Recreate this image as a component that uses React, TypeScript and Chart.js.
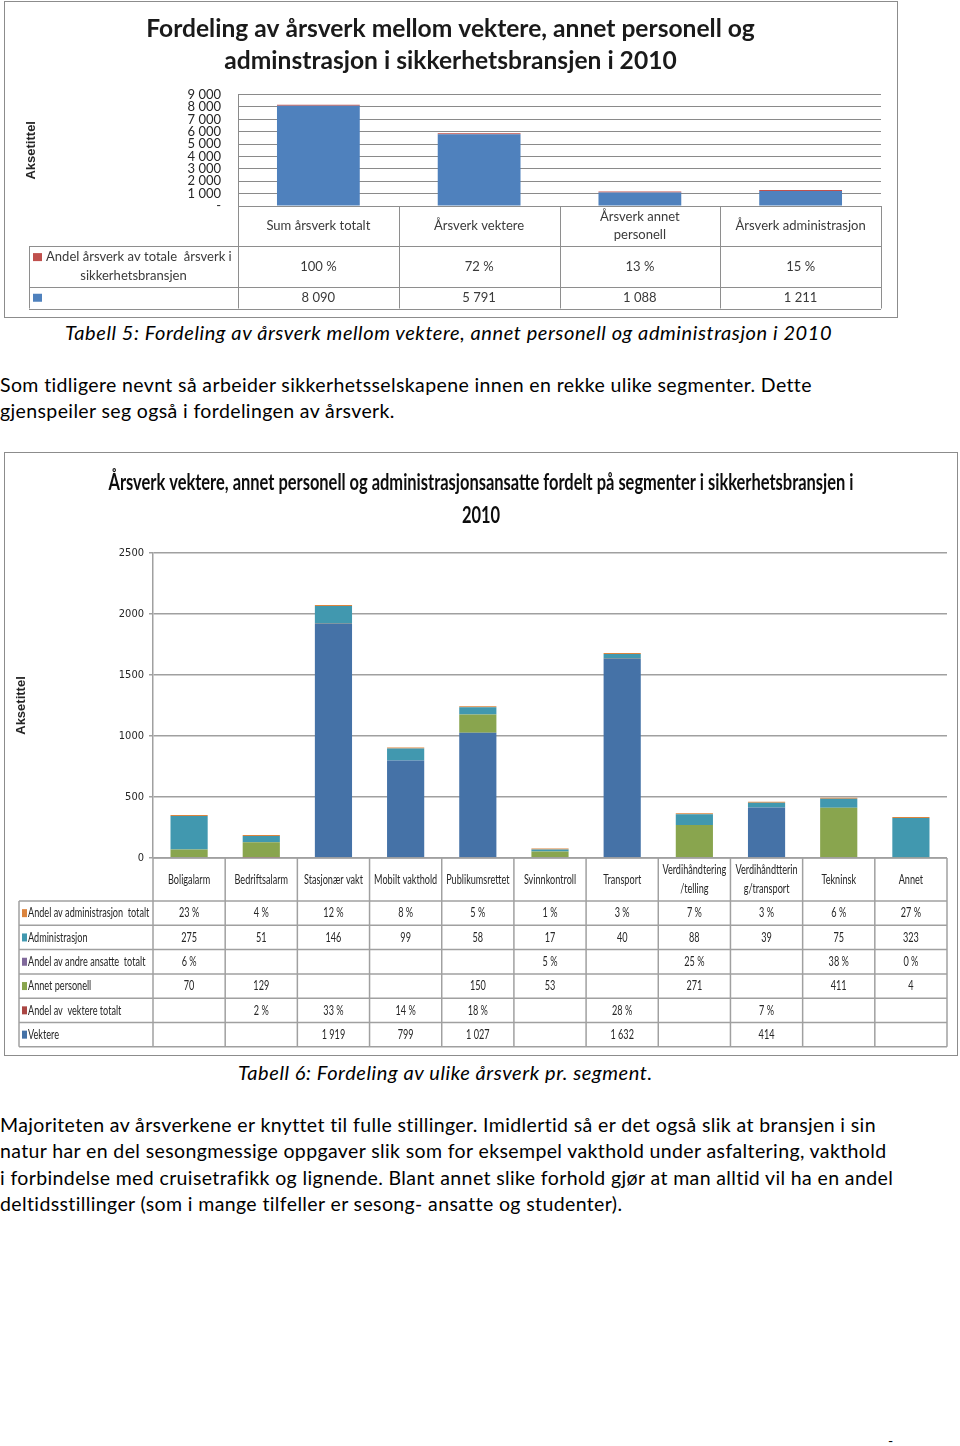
import React, { useEffect, useRef } from 'react';
import { Chart, registerables } from 'chart.js';

Chart.register(...registerables);

if (typeof document !== 'undefined') {
  document.body.style.margin = '0';
}

// ---------------- Chart 1 data ----------------
const C1_TITLE = ['Fordeling av årsverk mellom vektere, annet personell og', 'adminstrasjon i sikkerhetsbransjen i 2010'];
const C1_CATEGORIES = [['Sum årsverk totalt'], ['Årsverk vektere'], ['Årsverk annet', 'personell'], ['Årsverk administrasjon']];
const C1_ARSVERK = [8090, 5791, 1088, 1211];
const C1_ANDEL = [100, 72, 13, 15];
const C1_ANDEL_LABEL = ['Andel årsverk av totale  årsverk i', 'sikkerhetsbransjen'];
const C1_ARSVERK_LABEL: string[] = [];
const C1_Y_MAX = 9000;
const C1_Y_STEP = 1000;

// ---------------- Chart 2 data ----------------
const C2_TITLE = ['Årsverk vektere, annet personell og administrasjonsansatte fordelt på segmenter i sikkerhetsbransjen i', '2010'];
const SEGMENTS = [
  ['Boligalarm'], ['Bedriftsalarm'], ['Stasjonær vakt'], ['Mobilt vakthold'], ['Publikumsrettet'],
  ['Svinnkontroll'], ['Transport'], ['Verdihåndtering', '/telling'], ['Verdihåndtterin', 'g/transport'], ['Tekninsk'], ['Annet'],
];
const VEKTERE = [null, null, 1919, 799, 1027, null, 1632, null, 414, null, null];
const ANDEL_VEKTERE = [null, 2, 33, 14, 18, null, 28, null, 7, null, null];
const ANNET_PERSONELL = [70, 129, null, null, 150, 53, null, 271, null, 411, 4];
const ANDEL_ANDRE = [6, null, null, null, null, 5, null, 25, null, 38, 0];
const ADMINISTRASJON = [275, 51, 146, 99, 58, 17, 40, 88, 39, 75, 323];
const ANDEL_ADMIN = [23, 4, 12, 8, 5, 1, 3, 7, 3, 6, 27];
const C2_Y_MAX = 2500;
const C2_Y_STEP = 500;

// ---------------- page text ----------------
const CAPTION_1 = 'Tabell 5: Fordeling av årsverk mellom vektere, annet personell og administrasjon i 2010';
const PARA_1 = [
  'Som tidligere nevnt så arbeider sikkerhetsselskapene innen en rekke ulike segmenter. Dette',
  'gjenspeiler seg også i fordelingen av årsverk.',
];
const CAPTION_2 = 'Tabell 6: Fordeling av ulike årsverk pr. segment.';
const PARA_2 = [
  'Majoriteten av årsverkene er knyttet til fulle stillinger. Imidlertid så er det også slik at bransjen i sin',
  'natur har en del sesongmessige oppgaver slik som for eksempel vakthold under asfaltering, vakthold',
  'i forbindelse med cruisetrafikk og lignende. Blant annet slike forhold gjør at man alltid vil ha en andel',
  'deltidsstillinger (som i mange tilfeller er sesong- ansatte og studenter).',
];

// ---------------- styles ----------------
const C1_BLUE = '#4F81BD';
const C1_RED = '#C0504D';
const C2_BLUE = '#4572A7';
const C2_RED = '#AA4643';
const C2_GREEN = '#89A54E';
const C2_PURPLE = '#80699B';
const C2_TEAL = '#4198AF';
const C2_ORANGE = '#DB843D';
const SANS = "Lato, 'Noto Sans', sans-serif";
const NARROW = "'Liberation Sans Narrow', 'DejaVu Sans Condensed', 'Liberation Sans', sans-serif";

const fmtNum = (v: number) =>
  v >= 1000 ? `${Math.floor(v / 1000)} ${String(v % 1000).padStart(3, '0')}` : String(v);
const fmtPct = (v: number) => `${v} %`;

function drawText(
  ctx: CanvasRenderingContext2D, text: string, x: number, y: number,
  font: string, color: string, align: CanvasTextAlign, sx = 1,
) {
  ctx.save();
  ctx.font = font;
  ctx.fillStyle = color;
  ctx.textAlign = align;
  ctx.textBaseline = 'middle';
  ctx.translate(x, y);
  ctx.scale(sx, 1);
  ctx.fillText(text, 0, 0);
  ctx.restore();
}

function hline(ctx: CanvasRenderingContext2D, x1: number, x2: number, y: number) {
  ctx.beginPath();
  ctx.moveTo(x1, y);
  ctx.lineTo(x2, y);
  ctx.stroke();
}
function vline(ctx: CanvasRenderingContext2D, x: number, y1: number, y2: number) {
  ctx.beginPath();
  ctx.moveTo(x, y1);
  ctx.lineTo(x, y2);
  ctx.stroke();
}

// ================= Chart 1 =================
function Chart1() {
  const ref = useRef<HTMLCanvasElement>(null);
  useEffect(() => {
    const rows = [
      { label: C1_ANDEL_LABEL, color: C1_RED, values: C1_ANDEL, fmt: fmtPct },
      { label: C1_ARSVERK_LABEL, color: C1_BLUE, values: C1_ARSVERK, fmt: fmtNum },
    ];
    const tablePlugin = {
      id: 'table1',
      afterDraw(chart: any) {
        const { ctx, chartArea: ca } = chart;
        const xs = chart.scales.x;
        const n = C1_CATEGORIES.length;
        const cw = ca.width / n;
        const centers = C1_CATEGORIES.map((_, i) => xs.getPixelForValue(i));
        const edges = [...centers.map((c: number) => c - cw / 2), centers[n - 1] + cw / 2];
        const top = ca.bottom;
        const headerBottom = top + 40;
        const rowHs = [41, 21.5];
        const legendLeft = 24;
        const font = `13px ${SANS}`;
        ctx.save();
        ctx.font = font;
        const sx = 104 / ctx.measureText('Sum årsverk totalt').width;
        ctx.strokeStyle = '#8e8e8e';
        ctx.lineWidth = 1;
        hline(ctx, ca.left, ca.right, top + 0.5);
        let y = headerBottom;
        const rowTops: number[] = [];
        rows.forEach((_, i) => { rowTops.push(y); y += rowHs[i]; });
        const bottom = y;
        [...rowTops, bottom].forEach((yy) => hline(ctx, legendLeft, ca.right, Math.round(yy) + 0.5));
        edges.forEach((x: number) => vline(ctx, Math.round(x) + 0.5, top, bottom));
        vline(ctx, legendLeft + 0.5, headerBottom, bottom);
        ctx.restore();
        const hMid = (top + headerBottom) / 2;
        C1_CATEGORIES.forEach((lines, i) => {
          lines.forEach((t, j) => {
            const yy = hMid + (j - (lines.length - 1) / 2) * 18;
            drawText(ctx, t, centers[i], yy, font, '#3a3a3a', 'center', sx);
          });
        });
        rows.forEach((r, ri) => {
          const mid = rowTops[ri] + rowHs[ri] / 2;
          const sqY = r.label.length > 1 ? mid - 9.4 : mid;
          ctx.fillStyle = r.color;
          ctx.fillRect(legendLeft + 4, sqY - 4, 9, 8);
          r.label.forEach((t, j) => {
            const yy = mid + (j - (r.label.length - 1) / 2) * 18.7;
            if (j === 0) drawText(ctx, t, legendLeft + 17, yy, font, '#3a3a3a', 'left', sx);
            else drawText(ctx, t, (legendLeft + ca.left) / 2, yy, font, '#3a3a3a', 'center', sx);
          });
          r.values.forEach((v, i) => {
            if (v == null) return;
            drawText(ctx, r.fmt(v), centers[i], mid, font, '#3a3a3a', 'center', sx);
          });
        });
      },
    };
    const chart = new Chart(ref.current!, {
      type: 'bar',
      data: {
        labels: C1_CATEGORIES.map((c) => c.join(' ')),
        datasets: [
          { label: 'Årsverk', data: C1_ARSVERK, backgroundColor: C1_BLUE, barPercentage: 0.515, categoryPercentage: 1 },
          { label: 'Andel årsverk av totale årsverk i sikkerhetsbransjen', data: C1_ANDEL.map((v) => v / 100), backgroundColor: C1_RED, barPercentage: 0.515, categoryPercentage: 1, minBarLength: 1 },
        ],
      },
      options: {
        responsive: false,
        animation: false,
        devicePixelRatio: 1,
        layout: { padding: { left: 15, right: 16, top: 0, bottom: 111 } },
        plugins: {
          legend: { display: false },
          tooltip: { enabled: false },
          title: {
            display: true,
            text: C1_TITLE,
            color: '#1a1a1a',
            font: { family: SANS, size: 24.6, weight: 'bold', lineHeight: 1.3 },
            padding: { top: 11, bottom: 17.6 },
          },
        },
        scales: {
          x: { stacked: true, display: false },
          y: {
            stacked: true,
            min: 0,
            max: C1_Y_MAX,
            ticks: {
              stepSize: C1_Y_STEP,
              autoSkip: false,
              padding: 17,
              color: '#262626',
              font: { family: SANS, size: 13, lineHeight: 1 },
              callback: (v: any) => (Number(v) === 0 ? '-' : fmtNum(Number(v))),
            },
            grid: { color: '#8a8a8a', lineWidth: 1, drawTicks: false },
            border: { display: true, color: '#8a8a8a' },
            title: { display: true, text: 'Aksetittel', color: '#262626', font: { family: "'Liberation Sans', sans-serif", size: 13, weight: 'bold' } },
            afterFit: (s: any) => { s.width = 218; },
          },
        },
      } as any,
      plugins: [tablePlugin],
    });
    return () => chart.destroy();
  }, []);
  return <canvas ref={ref} width={892} height={315} style={{ display: 'block' }} />;
}

// ================= Chart 2 =================
function Chart2() {
  const ref = useRef<HTMLCanvasElement>(null);
  useEffect(() => {
    const series = [
      { label: 'Vektere', color: C2_BLUE, values: VEKTERE, pct: false },
      { label: 'Andel av  vektere totalt', color: C2_RED, values: ANDEL_VEKTERE, pct: true },
      { label: 'Annet personell', color: C2_GREEN, values: ANNET_PERSONELL, pct: false },
      { label: 'Andel av andre ansatte  totalt', color: C2_PURPLE, values: ANDEL_ANDRE, pct: true },
      { label: 'Administrasjon', color: C2_TEAL, values: ADMINISTRASJON, pct: false },
      { label: 'Andel av administrasjon  totalt', color: C2_ORANGE, values: ANDEL_ADMIN, pct: true },
    ];
    const titlePlugin = {
      id: 'title2',
      afterDraw(chart: any) {
        const { ctx, width } = chart;
        const font = `bold 23px ${SANS}`;
        ctx.save();
        ctx.font = font;
        const sx = 745 / ctx.measureText(C2_TITLE[0]).width;
        ctx.restore();
        C2_TITLE.forEach((t, i) => drawText(ctx, t, width / 2, 30 + i * 33, font, '#0d0d0d', 'center', sx));
      },
    };
    const tablePlugin = {
      id: 'table2',
      afterDraw(chart: any) {
        const { ctx, chartArea: ca } = chart;
        const xs = chart.scales.x;
        const n = SEGMENTS.length;
        const cw = ca.width / n;
        const centers = SEGMENTS.map((_, i) => xs.getPixelForValue(i));
        const edges = [...centers.map((c: number) => c - cw / 2), centers[n - 1] + cw / 2];
        const top = ca.bottom;
        const headerBottom = top + 43;
        const rowH = 24.3;
        const rows = series.slice().reverse();
        const bottom = headerBottom + rows.length * rowH;
        const legendLeft = 14;
        const font = `13px ${SANS}`;
        ctx.save();
        ctx.font = font;
        const sx = 119 / ctx.measureText('Andel av administrasjon totalt').width;
        ctx.strokeStyle = '#a0a0a0';
        ctx.lineWidth = 1.5;
        hline(ctx, ca.left, ca.right, top);
        for (let r = 0; r <= rows.length; r++) hline(ctx, legendLeft, ca.right, headerBottom + r * rowH);
        edges.forEach((x: number) => vline(ctx, x, top, bottom));
        vline(ctx, legendLeft, headerBottom, bottom);
        ctx.restore();
        const hMid = (top + headerBottom) / 2;
        SEGMENTS.forEach((lines, i) => {
          lines.forEach((t, j) => {
            const yy = hMid + (j - (lines.length - 1) / 2) * 19;
            drawText(ctx, t, centers[i], yy, font, '#262626', 'center', sx);
          });
        });
        rows.forEach((r, ri) => {
          const mid = headerBottom + ri * rowH + rowH / 2;
          ctx.fillStyle = r.color;
          ctx.fillRect(legendLeft + 3, mid - 4, 5, 8);
          drawText(ctx, r.label, legendLeft + 9, mid, font, '#262626', 'left', sx);
          r.values.forEach((v, i) => {
            if (v == null) return;
            drawText(ctx, r.pct ? fmtPct(v) : fmtNum(v), centers[i], mid, font, '#262626', 'center', sx);
          });
        });
      },
    };
    const chart = new Chart(ref.current!, {
      type: 'bar',
      data: {
        labels: SEGMENTS.map((s) => s.join(' ')),
        datasets: series.map((s, i) => ({
          label: s.label,
          data: s.values.map((v) => (v == null ? null : s.pct ? v / 100 : v)),
          backgroundColor: s.color,
          barPercentage: 0.515,
          categoryPercentage: 1,
          minBarLength: i === series.length - 1 ? 1 : 0,
        })),
      },
      options: {
        responsive: false,
        animation: false,
        devicePixelRatio: 1,
        layout: { padding: { left: 5, right: 10, top: 100, bottom: 197 } },
        plugins: { legend: { display: false }, tooltip: { enabled: false }, title: { display: false } },
        scales: {
          x: { stacked: true, display: false },
          y: {
            stacked: true,
            min: 0,
            max: C2_Y_MAX,
            ticks: {
              stepSize: C2_Y_STEP,
              autoSkip: false,
              padding: 5,
              color: '#262626',
              font: { family: NARROW, size: 11 },
              callback: (v: any) => String(v),
            },
            grid: { color: '#a0a0a0', lineWidth: 1.5, tickLength: 4, tickColor: '#a0a0a0' },
            border: { display: true, color: '#a0a0a0', width: 1.5 },
            title: { display: true, text: 'Aksetittel', color: '#262626', font: { family: "'Liberation Sans', sans-serif", size: 13, weight: 'bold' } },
            afterFit: (s: any) => { s.width = 143; },
          },
        },
      } as any,
      plugins: [titlePlugin, tablePlugin],
    });
    return () => chart.destroy();
  }, []);
  return <canvas ref={ref} width={952} height={602} style={{ display: 'block' }} />;
}

const bodyFont: React.CSSProperties = {
  position: 'absolute',
  whiteSpace: 'nowrap',
  fontFamily: SANS,
  fontSize: 19.5,
  letterSpacing: '0.38px',
  lineHeight: '26px',
  color: '#000',
  margin: 0,
};
const captionFont: React.CSSProperties = {
  ...bodyFont,
  fontStyle: 'italic',
  fontSize: 20,
  letterSpacing: '0.58px',
};

export default function App() {
  useEffect(() => {
    document.body.style.margin = '0';
  }, []);
  return (
    <div style={{ position: 'relative', width: 960, height: 1446, background: '#fff', overflow: 'hidden' }}>
      <div style={{ position: 'absolute', left: 4, top: 1, width: 894, height: 317, border: '1px solid #8c8c8c', boxSizing: 'border-box', background: '#fff' }}>
        <Chart1 />
      </div>
      <div style={{ ...captionFont, left: 65, top: 319 }}>{CAPTION_1}</div>
      <div style={{ ...bodyFont, left: 0, top: 372 }}>
        {PARA_1.map((l, i) => <div key={i}>{l}</div>)}
      </div>
      <div style={{ position: 'absolute', left: 4, top: 452, width: 954, height: 604, border: '1px solid #8c8c8c', boxSizing: 'border-box', background: '#fff' }}>
        <Chart2 />
      </div>
      <div style={{ ...captionFont, left: 238, top: 1059 }}>{CAPTION_2}</div>
      <div style={{ ...bodyFont, left: 0, top: 1112, lineHeight: '26.4px' }}>
        {PARA_2.map((l, i) => <div key={i}>{l}</div>)}
      </div>
      <div style={{ ...bodyFont, left: 888, top: 1428, fontSize: 14 }}>-</div>
    </div>
  );
}
